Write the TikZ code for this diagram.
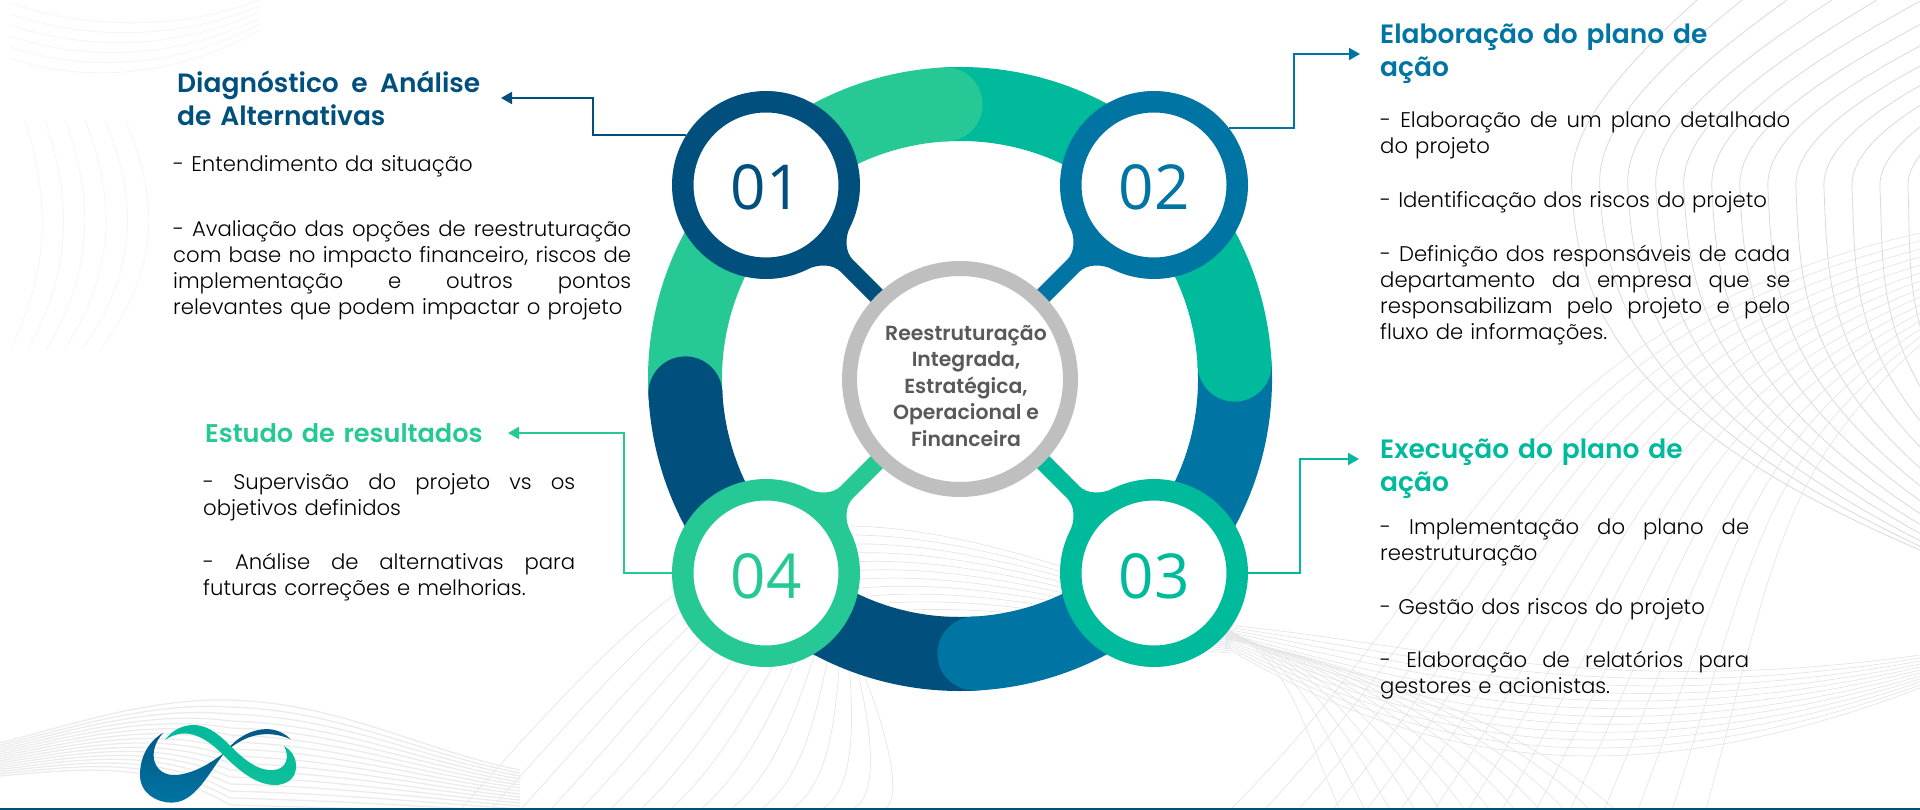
\documentclass[tikz,border=0pt]{standalone}
\usepackage{fontspec}
\setmainfont{Poppins}[UprightFont=* Light,BoldFont=* SemiBold]
\newfontfamily\numfont{Open Sans}
\usetikzlibrary{arrows.meta}
\definecolor{navy}{HTML}{004F7C}
\definecolor{sea}{HTML}{0074A2}
\definecolor{teal}{HTML}{00BA9C}
\definecolor{mint}{HTML}{26C995}
\definecolor{ringgray}{HTML}{BFBFBF}
\definecolor{midtext}{HTML}{595959}
\newcommand{\jline}[1]{\makebox[\hsize][s]{\spaceskip=.3em plus 1fil\relax #1}\\}
\tikzset{
  wave/.style={line width=0.8pt,color=black!15},
  softwave/.style={line width=0.7pt,color=black!10},
  blurwave/.style={line width=1.3pt,color=black!8},
  faint/.style={line width=0.8pt,color=black!4},
  band/.style={line width=74pt},
  numring/.style={circle,fill=white,line width=21.5pt,minimum size=166.5pt,inner sep=0pt,
                  text height=50pt,text depth=0pt,
                  font=\numfont\fontsize{62}{62}\selectfont},
  heading/.style={anchor=north west,inner sep=0pt,text width=#1,align=left,
                  font=\fontsize{26.5}{33}\selectfont\bfseries},
  body/.style={anchor=north west,inner sep=0pt,text width=#1,align=left,text=black,
               font=\fontsize{21.2}{26}\selectfont},
  link/.style={line width=2pt,-{Triangle[length=11pt,width=12pt]}}
}
\begin{document}
\begin{tikzpicture}[x=1pt,y=-1pt]
  \useasboundingbox (0 , 0) rectangle (1920 , 810);
  \begin{scope}
    \clip (0 , 0) rectangle (1920 , 810);
    \foreach \i in {0,...,5}
      \draw[faint] (10 , 3+11*\i) .. controls (90 , 30+11*\i) and (180 , 30+9*\i) .. (260 , 0+6*\i);
    \foreach \i in {0,...,5}
      \draw[faint] (25+20*\i , 120) .. controls (50+22*\i , 200) and (50+22*\i , 270) .. (10+18*\i , 350);
    \foreach \i in {0,...,13}
      \draw[wave] (1697+45*\i , 0) .. controls (1620+35*\i , 70) and (1566+28*\i , 130) .. (1572+28*\i , 190)
                  .. controls (1578+28*\i , 320) and (1640+20*\i , 430) .. (1920+30*\i , 550+10*\i);
    \foreach \i in {0,...,14}
      \draw[softwave] (1920 , 233+8*\i) .. controls (1500+20*\i , 330+10*\i) and (1480+21*\i , 560) .. (1230+34*\i , 810);
    \foreach \i in {0,...,11}
      \draw[softwave] (1225 , 625+2*\i) .. controls (1400 , 640+10*\i) and (1600 , 700+10*\i) .. (1920 , 655+3*\i);
    \foreach \i in {0,...,11}
      \draw[softwave] (1225 , 628+\i) .. controls (1290+5*\i , 660) and (1300+20*\i , 720) .. (1340+25*\i , 810);
    \foreach \i in {0,...,14}
      \draw[softwave] (460+30*\i , 810) .. controls (610+22*\i , 640+12*\i) and (720+10*\i , 525+9*\i) .. (850 , 526+9*\i)
                  .. controls (960 , 528+7*\i) and (1080 , 570+5*\i) .. (1230 , 625+2*\i);
    \foreach \i in {0,...,15}
      \draw[blurwave] (0 , 743+2.2*\i) .. controls (70 , 725+3*\i) and (150 , 698+4*\i) .. (230 , 700+7*\i)
                  .. controls (340 , 703+7*\i) and (420 , 750+4*\i) .. (520 , 770+3*\i);
  \end{scope}

  \draw[band,mint] (960 , 379) ++(177:275) arc [start angle=177, end angle=267, radius=275];
  \draw[band,teal] (960 , 379) ++(-93:275) arc [start angle=-93, end angle=-3, radius=275];
  \draw[band,sea] (960 , 379) ++(-3:275) arc [start angle=-3, end angle=87, radius=275];
  \draw[band,navy] (960 , 379) ++(87:275) arc [start angle=87, end angle=177, radius=275];
  \fill[mint] (960 , 379) ++(-93:275) circle [radius=37];
  \fill[teal] (960 , 379) ++(-3:275) circle [radius=37];
  \fill[sea] (960 , 379) ++(87:275) circle [radius=37];
  \fill[navy] (960 , 379) ++(177:275) circle [radius=37];

  \node[numring,draw=navy,text=navy] (c1) at (766 , 185) {01};
  \node[numring,draw=sea,text=sea] (c2) at (1154 , 185) {02};
  \node[numring,draw=teal,text=teal] (c3) at (1154 , 573) {03};
  \node[numring,draw=mint,text=mint] (c4) at (766 , 573) {04};

  \foreach \n/\ang/\col in {c1/-45/navy,c2/-135/sea,c3/135/teal,c4/45/mint}
    \fill[\col,shift={(\n)},rotate=\ang] (88 , 32) .. controls (93 , 18) and (103 , 8.5) .. (115 , 8.5) -- (165 , 8.5)
         -- (165 , -8.5) -- (115 , -8.5) .. controls (103 , -8.5) and (93 , -18) .. (88 , -32) -- (80 , 0) -- cycle;

  \node[circle,draw=ringgray,fill=white,line width=15pt,minimum size=221pt,inner sep=0pt] (hub) at (960 , 379) {};
  \node[align=center,inner sep=0pt,text=midtext,font=\fontsize{20.4}{26.5}\selectfont\bfseries] (hubtext) at (966 , 386)
       {Reestruturação\\Integrada,\\Estratégica,\\Operacional e\\Financeira};

  \node[heading=303pt,text=navy] (h1) at (177 , 71) {\jline{Diagnóstico e Análise}de Alternativas};
  \node[heading=340pt,text=sea] (h2) at (1380 , 24) {Elaboração do plano de\\ação};
  \node[heading=340pt,text=teal] (h3) at (1380 , 439) {Execução do plano de\\ação};
  \node[heading=300pt,text=mint,font=\fontsize{25.6}{33}\selectfont\bfseries] (h4) at (205 , 423) {Estudo de resultados};

  \node[body=458pt] (b1) at (173 , 155) {- Entendimento da situação\\[39pt]
    \jline{- Avaliação das opções de reestruturação}
    \jline{com base no impacto financeiro, riscos de}
    \jline{implementação e outros pontos}
    relevantes que podem impactar o projeto};
  \node[body=410pt] (b2) at (1380 , 112) {\jline{- Elaboração de um plano detalhado}
    do projeto\\[28pt]
    - Identificação dos riscos do projeto\\[28pt]
    \jline{- Definição dos responsáveis de cada}
    \jline{departamento da empresa que se}
    \jline{responsabilizam pelo projeto e pelo}
    fluxo de informações.};
  \node[body=369pt] (b3) at (1380 , 519) {\jline{- Implementação do plano de}
    reestruturação\\[27.5pt]
    - Gestão dos riscos do projeto\\[27.5pt]
    \jline{- Elaboração de relatórios para}
    gestores e acionistas.};
  \node[body=372pt] (b4) at (203 , 473) {\jline{- Supervisão do projeto vs os}
    objetivos definidos\\[28pt]
    \jline{- Análise de alternativas para}
    futuras correções e melhorias.};

  \coordinate (k1) at (593 , 98);
  \coordinate (t1) at (501 , 98);
  \coordinate (k2) at (1294 , 54);
  \coordinate (t2) at (1360 , 54);
  \coordinate (k3) at (1300 , 459);
  \coordinate (t3) at (1359 , 459);
  \coordinate (k4) at (624 , 433);
  \coordinate (t4) at (508 , 433);
  \draw[link,navy] (c1.148) -| (k1) -- (t1);
  \draw[link,sea] (c2.37) -| (k2) -- (t2);
  \draw[link,teal] (c3.east) -| (k3) -- (t3);
  \draw[link,mint] (c4.west) -| (k4) -- (t4);

  \shade[top color=navy!85!sea,bottom color=sea,shift={(0 , 640)},scale=1/3]
    (490 , 278) .. controls (445 , 305) and (420 , 350) .. (420 , 405) .. controls (420 , 460) and (470 , 488) .. (515 , 488)
    .. controls (600 , 488) and (640 , 360) .. (705 , 305) .. controls (745 , 270) and (820 , 245) .. (872 , 298)
    .. controls (810 , 270) and (745 , 280) .. (690 , 325) .. controls (640 , 365) and (580 , 405) .. (520 , 405)
    .. controls (465 , 405) and (435 , 340) .. (490 , 278) -- cycle;
  \shade[top color=teal,bottom color=teal!60!mint,shift={(0 , 640)},scale=1/3]
    (495 , 300) .. controls (520 , 265) and (555 , 255) .. (580 , 255) .. controls (640 , 255) and (680 , 310) .. (720 , 345)
    .. controls (760 , 380) and (790 , 392) .. (820 , 390) .. controls (860 , 388) and (870 , 350) .. (852 , 318)
    .. controls (880 , 335) and (890 , 360) .. (888 , 385) .. controls (885 , 420) and (855 , 435) .. (825 , 435)
    .. controls (770 , 435) and (720 , 395) .. (670 , 345) .. controls (620 , 295) and (560 , 255) .. (495 , 300) -- cycle;

  \fill[navy] (0 , 808) rectangle (1920 , 810);
\end{tikzpicture}
\end{document}
